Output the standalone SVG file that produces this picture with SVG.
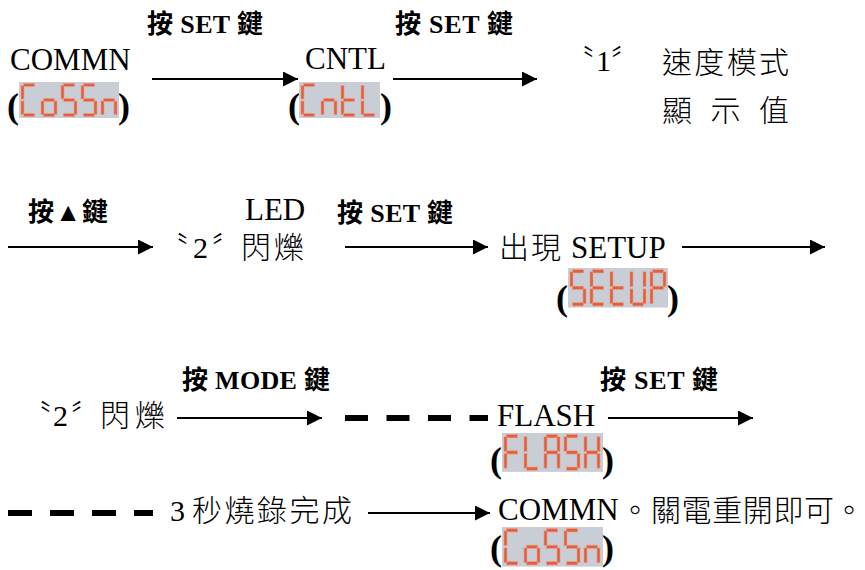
<svg xmlns="http://www.w3.org/2000/svg" xmlns:xlink="http://www.w3.org/1999/xlink" width="865" height="570" viewBox="0 0 865 570">
<style>
.t{font-family:"Liberation Serif","Noto Sans CJK TC",serif;font-size:31px;font-weight:300;fill:#000}
.c{font-family:"Noto Sans CJK TC","Liberation Serif",sans-serif;font-size:30px;font-weight:300;fill:#000}
.l{font-family:"Liberation Serif",serif}
.b{font-family:"Liberation Serif","Noto Sans CJK TC",serif;font-size:26px;font-weight:bold;fill:#000}
.p{font-family:"Liberation Serif",serif;font-size:36px;font-weight:bold;fill:#000}
.lcd{fill:#c9ced6}
.seg{fill:#e2603e;stroke:#eb9a86;stroke-width:0.6}
.arr{stroke:#000;stroke-width:2;fill:none;marker-end:url(#ah)}
.dash{stroke:#000;stroke-width:6;fill:none}
</style>
<defs>
<marker id="ah" markerUnits="userSpaceOnUse" markerWidth="15" markerHeight="15" refX="15" refY="7.5" orient="auto">
<path d="M0,0 L15,7.5 L0,15 Z" fill="#000"/>
</marker>
<rect id="sa" class="seg" x="2.5" y="0" width="11" height="3"/>
<rect id="sb" class="seg" x="13" y="2" width="3" height="13.5"/>
<rect id="sc" class="seg" x="13" y="17.5" width="3" height="13.5"/>
<rect id="sd" class="seg" x="2.5" y="30" width="11" height="3"/>
<rect id="se" class="seg" x="0" y="17.5" width="3" height="13.5"/>
<rect id="sf" class="seg" x="0" y="2" width="3" height="13.5"/>
<rect id="sg" class="seg" x="2.5" y="15" width="11" height="3"/>
<g id="gC"><use href="#sa"/><use href="#sf"/><use href="#se"/><use href="#sd"/></g>
<g id="go"><use href="#sg"/><use href="#sc"/><use href="#sd"/><use href="#se"/></g>
<g id="gS"><use href="#sa"/><use href="#sf"/><use href="#sg"/><use href="#sc"/><use href="#sd"/></g>
<g id="gn"><use href="#sg"/><use href="#se"/><use href="#sc"/></g>
<g id="gt"><use href="#sf"/><use href="#se"/><use href="#sg"/><use href="#sd"/></g>
<g id="gL"><use href="#sf"/><use href="#se"/><use href="#sd"/></g>
<g id="gE"><use href="#sa"/><use href="#sf"/><use href="#sg"/><use href="#se"/><use href="#sd"/></g>
<g id="gU"><use href="#sf"/><use href="#se"/><use href="#sd"/><use href="#sc"/><use href="#sb"/></g>
<g id="gP"><use href="#sa"/><use href="#sb"/><use href="#sf"/><use href="#sg"/><use href="#se"/></g>
<g id="gF"><use href="#sa"/><use href="#sf"/><use href="#sg"/><use href="#se"/></g>
<g id="gA"><use href="#sa"/><use href="#sb"/><use href="#sc"/><use href="#se"/><use href="#sf"/><use href="#sg"/></g>
<g id="gH"><use href="#sf"/><use href="#se"/><use href="#sb"/><use href="#sc"/><use href="#sg"/></g>
<g id="lcdCoSSn">
<rect class="lcd" x="0" y="0" width="100" height="36"/>
<use href="#gC" x="2" y="1.5"/><use href="#go" x="22" y="1.5"/><use href="#gS" x="42" y="1.5"/><use href="#gS" x="62" y="1.5"/><use href="#gn" x="82" y="1.5"/>
</g>
</defs>

<g id="connectors">
<line class="arr" x1="152" y1="79" x2="298" y2="79"/>
<line class="arr" x1="393" y1="79" x2="537" y2="79"/>
<line class="arr" x1="8" y1="247" x2="153" y2="247"/>
<line class="arr" x1="345" y1="247" x2="488" y2="247"/>
<line class="arr" x1="682" y1="247" x2="825" y2="247"/>
<line class="arr" x1="177" y1="418" x2="322" y2="418"/>
<line class="dash" x1="345" y1="418" x2="488" y2="418" stroke-dasharray="23 18.5"/>
<line class="arr" x1="608" y1="418" x2="753" y2="418"/>
<line class="dash" x1="8" y1="513" x2="153" y2="513" stroke-dasharray="24 18"/>
<line class="arr" x1="368" y1="513" x2="490" y2="513"/>
<text class="b" x="147" y="33" textLength="116">按 SET 鍵</text>
<text class="b" x="395" y="33" textLength="118">按 SET 鍵</text>
<text class="b" x="28" y="221" textLength="80">按▲鍵</text>
<text class="b" x="337" y="222" textLength="116">按 SET 鍵</text>
<text class="b" x="182" y="389" textLength="148">按 MODE 鍵</text>
<text class="b" x="600" y="389" textLength="118">按 SET 鍵</text>
</g>

<g id="n-commn1">
<text class="t" x="10" y="70">COMMN</text>
<text class="p" x="7" y="118">(</text>
<use href="#lcdCoSSn" x="19" y="82"/>
<text class="p" x="118" y="118">)</text>
</g>

<g id="n-cntl">
<text class="t" x="305" y="69">CNTL</text>
<text class="p" x="288" y="118">(</text>
<g transform="translate(299,82)">
<rect class="lcd" x="0" y="0" width="81" height="36"/>
<use href="#gC" x="2" y="1.5"/><use href="#gn" x="22" y="1.5"/><use href="#gt" x="42" y="1.5"/><use href="#gL" x="62" y="1.5"/>
</g>
<text class="p" x="380" y="118">)</text>
</g>

<g id="n-speed">
<text class="c" y="71"><tspan x="564">〝</tspan><tspan class="l" x="596">1</tspan><tspan x="611">〞</tspan></text>
<text class="c" x="662" y="73" textLength="127">速度模式</text>
<text class="c" x="662" y="121" textLength="127">顯 示 值</text>
</g>

<g id="n-led">
<text class="t" x="245" y="220">LED</text>
<text class="c" y="258"><tspan x="158">〝</tspan><tspan class="l" x="193">2</tspan><tspan x="212">〞</tspan><tspan x="241" textLength="63">閃爍</tspan></text>
</g>

<g id="n-setup">
<text class="c" y="258"><tspan x="499" textLength="62">出現</tspan><tspan class="l" x="571" font-size="31">SETUP</tspan></text>
<text class="p" x="556" y="310">(</text>
<g transform="translate(568,268) scale(1,1.1)">
<rect class="lcd" x="0" y="0" width="100" height="36"/>
<use href="#gS" x="2" y="1.5"/><use href="#gE" x="22" y="1.5"/><use href="#gt" x="42" y="1.5"/><use href="#gU" x="62" y="1.5"/><use href="#gP" x="82" y="1.5"/>
</g>
<text class="p" x="667" y="310">)</text>
</g>

<g id="n-blink">
<text class="c" y="426"><tspan x="21">〝</tspan><tspan class="l" x="53">2</tspan><tspan x="71">〞</tspan><tspan x="100" textLength="65">閃爍</tspan></text>
</g>

<g id="n-flash">
<text class="t" x="497" y="426">FLASH</text>
<text class="p" x="490" y="472">(</text>
<g transform="translate(502,433) scale(1,1.08)">
<rect class="lcd" x="0" y="0" width="101" height="36"/>
<use href="#gF" x="2" y="1.5"/><use href="#gL" x="22" y="1.5"/><use href="#gA" x="42" y="1.5"/><use href="#gS" x="62" y="1.5"/><use href="#gH" x="82" y="1.5"/>
</g>
<text class="p" x="602" y="472">)</text>
</g>

<g id="n-burn">
<text class="c" y="521"><tspan class="l" x="170">3</tspan><tspan x="192" textLength="160">秒燒錄完成</tspan></text>
</g>

<g id="n-commn2">
<text class="t" x="498" y="520">COMMN</text>
<text class="c" y="521"><tspan x="620">。</tspan><tspan x="651" textLength="183">關電重開即可</tspan><tspan x="834">。</tspan></text>
<text class="p" x="490" y="560">(</text>
<g transform="translate(502,527) scale(1,1.1)">
<rect class="lcd" x="0" y="0" width="101" height="36"/>
<use href="#gC" x="2" y="1.5"/><use href="#go" x="22" y="1.5"/><use href="#gS" x="42" y="1.5"/><use href="#gS" x="62" y="1.5"/><use href="#gn" x="82" y="1.5"/>
</g>
<text class="p" x="602" y="560">)</text>
</g>
</svg>
